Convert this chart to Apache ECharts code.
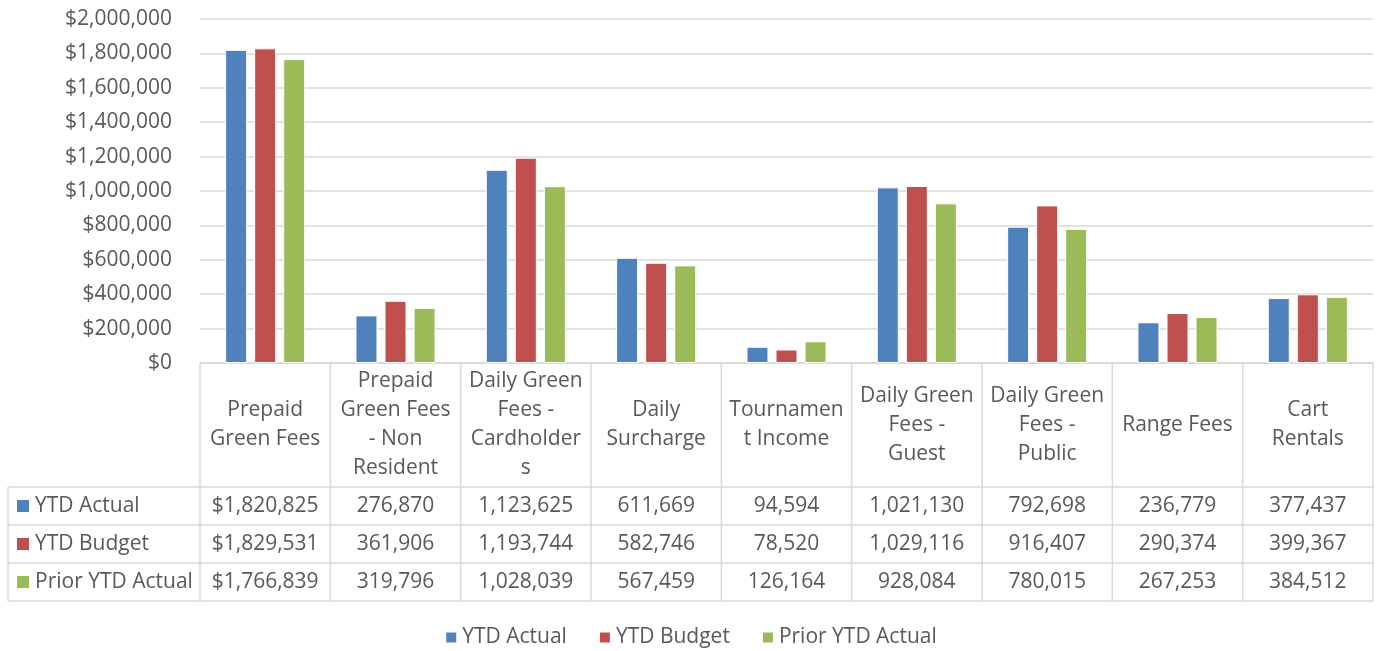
<!DOCTYPE html>
<html>
<head>
<meta charset="utf-8">
<script src="https://cdn.jsdelivr.net/npm/echarts@6/dist/echarts.min.js"></script>
<style>
  html, body { margin: 0; padding: 0; background: #fff; }
  #chart { width: 1381px; height: 651px; }
</style>
</head>
<body>
<div id="chart"></div>
<script>
// 数据
const categories = [
  'Prepaid\nGreen Fees',
  'Prepaid\nGreen Fees\n- Non\nResident',
  'Daily Green\nFees -\nCardholder\ns',
  'Daily\nSurcharge',
  'Tournamen\nt Income',
  'Daily Green\nFees -\nGuest',
  'Daily Green\nFees -\nPublic',
  'Range Fees',
  'Cart\nRentals'
]
const seriesNames = ['YTD Actual', 'YTD Budget', 'Prior YTD Actual']
const ytdActual = [1820825, 276870, 1123625, 611669, 94594, 1021130, 792698, 236779, 377437]
const ytdBudget = [1829531, 361906, 1193744, 582746, 78520, 1029116, 916407, 290374, 399367]
const priorYtdActual = [1766839, 319796, 1028039, 567459, 126164, 928084, 780015, 267253, 384512]
const yTicks = { min: 0, max: 2000000, interval: 200000 }

const seriesData = [ytdActual, ytdBudget, priorYtdActual]
const colors = ['#4f81bd', '#c0504d', '#9bbb59']
const textColor = '#595959'
const lineColor = '#d9d9d9'
const fontFamily = '"Open Sans", "Noto Sans", sans-serif'
const fontSize = 21

// 布局
const W = 1381, H = 651
const plotLeft = 200, plotRight = 1373, plotTop = 19, plotBottom = 363
const headerBottom = 487, rowH = 38, tableLeft = 8
const cw = (plotRight - plotLeft) / categories.length

const fmt = (v, i) => (i === 0 ? '$' : '') + v.toLocaleString('en-US')

// 数据表格
const graphics = []
const hline = (y, x1, x2) => graphics.push({
  type: 'line', silent: true,
  shape: { x1, y1: y, x2, y2: y },
  style: { stroke: lineColor, lineWidth: 1.5 }
})
const vline = (x, y1, y2) => graphics.push({
  type: 'line', silent: true,
  shape: { x1: x, y1, x2: x, y2 },
  style: { stroke: lineColor, lineWidth: 1.5 }
})
const text = (str, x, y, align) => graphics.push({
  type: 'text', silent: true,
  style: {
    text: str, x, y, align: align || 'center', verticalAlign: 'middle',
    fontSize, fontFamily, fill: textColor, lineHeight: 29
  }
})

hline(plotBottom, plotLeft, plotRight)
for (let r = 0; r <= seriesNames.length; r++) {
  hline(headerBottom + r * rowH, tableLeft, plotRight)
}
vline(tableLeft, headerBottom, headerBottom + seriesNames.length * rowH)
for (let i = 0; i <= categories.length; i++) {
  vline(plotLeft + i * cw, plotBottom, headerBottom + seriesNames.length * rowH)
}
categories.forEach((c, i) => {
  text(c, plotLeft + (i + 0.5) * cw, (plotBottom + headerBottom) / 2)
})
seriesNames.forEach((name, r) => {
  const cy = headerBottom + (r + 0.5) * rowH
  graphics.push({
    type: 'rect', silent: true,
    shape: { x: 17, y: cy - 6, width: 12, height: 12 },
    style: { fill: colors[r] }
  })
  text(name, 35, cy, 'left')
  seriesData[r].forEach((v, i) => {
    text(fmt(v, i), plotLeft + (i + 0.5) * cw, cy)
  })
})

const chart = echarts.init(document.getElementById('chart'))
chart.setOption({
  animation: false,
  textStyle: { fontFamily },
  grid: {
    left: plotLeft, right: W - plotRight, top: plotTop, bottom: H - plotBottom,
    containLabel: false
  },
  legend: {
    data: seriesNames,
    bottom: 3,
    left: 'center',
    padding: 0,
    icon: 'rect',
    itemWidth: 12,
    itemHeight: 12,
    itemGap: 31,
    textStyle: { color: textColor, fontSize, fontFamily }
  },
  xAxis: {
    type: 'category',
    data: categories,
    axisLabel: { show: false },
    axisTick: { show: false },
    axisLine: { show: false }
  },
  yAxis: {
    type: 'value',
    min: yTicks.min,
    max: yTicks.max,
    interval: yTicks.interval,
    axisLabel: {
      color: textColor, fontSize, fontFamily, margin: 28,
      formatter: v => '$' + v.toLocaleString('en-US')
    },
    axisLine: { show: false },
    axisTick: { show: false },
    splitLine: { lineStyle: { color: lineColor, width: 1.5 } }
  },
  series: seriesNames.map((name, r) => ({
    name,
    type: 'bar',
    data: seriesData[r],
    barWidth: 22,
    barGap: '32%',
    itemStyle: { color: colors[r], borderColor: '#fff', borderWidth: 1 }
  })),
  graphic: graphics
})
</script>
</body>
</html>
